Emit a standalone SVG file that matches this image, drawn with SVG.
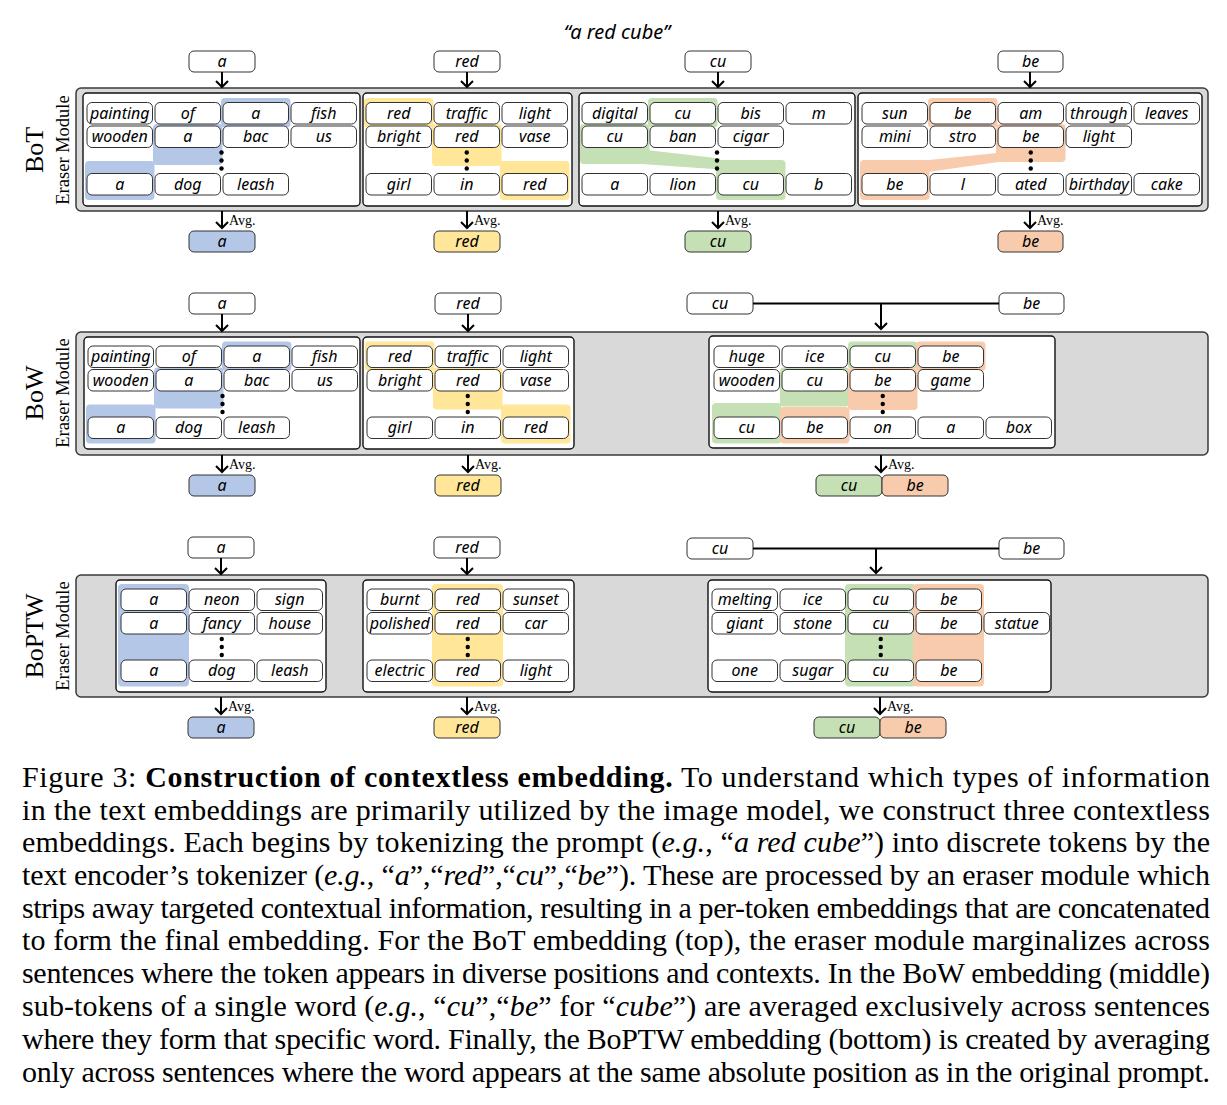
<svg xmlns="http://www.w3.org/2000/svg" width="1227" height="1105" viewBox="0 0 1227 1105">
<style>
.frame{fill:#d9d9d9;stroke:#3a3a3a;stroke-width:1.5}
.panel{fill:#fff;stroke:#111;stroke-width:1.4}
.cell{fill:#fff;stroke:#333;stroke-width:1}
.tok{font-family:"Noto Sans",sans-serif;font-style:italic;font-size:16px;text-anchor:middle;fill:#000}
.arr{fill:none;stroke:#000;stroke-width:2}
.avg{font-family:"Liberation Serif",serif;font-size:14px;fill:#000}
.lbl{font-family:"Liberation Serif",serif;text-anchor:middle;fill:#000}
.cap{font-family:"Liberation Serif",serif;font-size:30px;fill:#000}
.b{fill:#b4c7e7}.y{fill:#ffe699}.g{fill:#c5e0b4}.o{fill:#f8cbad}
.dot{fill:#000}
</style>

<text class="tok" x="617" y="39" style="font-size:20px">“a red cube”</text>

<!-- side labels -->
<text class="lbl" font-size="26" transform="translate(43,150) rotate(-90)">BoT</text>
<text class="lbl" font-size="18.5" transform="translate(69,150) rotate(-90)">Eraser Module</text>
<text class="lbl" font-size="26" transform="translate(43,393) rotate(-90)">BoW</text>
<text class="lbl" font-size="18.5" transform="translate(69,393) rotate(-90)">Eraser Module</text>
<text class="lbl" font-size="26" transform="translate(43,636) rotate(-90)">BoPTW</text>
<text class="lbl" font-size="18.5" transform="translate(69,636) rotate(-90)">Eraser Module</text>

<!-- frames -->
<rect class="frame" x="76" y="88" width="1132" height="123" rx="5"/>
<rect class="frame" x="76" y="332" width="1132" height="123" rx="5"/>
<rect class="frame" x="76" y="575" width="1132" height="122" rx="5"/>

<!-- ===== BoT ===== -->
<g id="bot-p1" transform="translate(87,102.5)">
<rect class="panel" x="-4" y="-9.5" width="277" height="113" rx="4"/>
<rect class="b" x="134" y="-4.5" width="69.5" height="29.5" rx="4"/>
<rect class="b" x="66" y="21.5" width="69.5" height="41" rx="4"/>
<rect class="b" x="-2" y="58.5" width="69.5" height="39" rx="4"/>
<rect class="cell" x="0" y="0" width="65.5" height="21.5" rx="5"/><text class="tok" x="32.75" y="16">painting</text>
<rect class="cell" x="68" y="0" width="65.5" height="21.5" rx="5"/><text class="tok" x="100.75" y="16">of</text>
<rect class="cell" x="136" y="0" width="65.5" height="21.5" rx="5"/><text class="tok" x="168.75" y="16">a</text>
<rect class="cell" x="204" y="0" width="65.5" height="21.5" rx="5"/><text class="tok" x="236.75" y="16">fish</text>
<rect class="cell" x="0" y="23.5" width="65.5" height="21.5" rx="5"/><text class="tok" x="32.75" y="39.5">wooden</text>
<rect class="cell" x="68" y="23.5" width="65.5" height="21.5" rx="5"/><text class="tok" x="100.75" y="39.5">a</text>
<rect class="cell" x="136" y="23.5" width="65.5" height="21.5" rx="5"/><text class="tok" x="168.75" y="39.5">bac</text>
<rect class="cell" x="204" y="23.5" width="65.5" height="21.5" rx="5"/><text class="tok" x="236.75" y="39.5">us</text>
<rect class="cell" x="0" y="71" width="65.5" height="21.5" rx="5"/><text class="tok" x="32.75" y="87">a</text>
<rect class="cell" x="68" y="71" width="65.5" height="21.5" rx="5"/><text class="tok" x="100.75" y="87">dog</text>
<rect class="cell" x="136" y="71" width="65.5" height="21.5" rx="5"/><text class="tok" x="168.75" y="87">leash</text>
<circle class="dot" cx="134.5" cy="50" r="2.2"/><circle class="dot" cx="134.5" cy="58" r="2.2"/><circle class="dot" cx="134.5" cy="66" r="2.2"/>
</g>

<g id="bot-p2" transform="translate(366,102.5)">
<rect class="panel" x="-3" y="-9.5" width="209" height="113" rx="4"/>
<rect class="y" x="-2" y="-4.5" width="69.5" height="29.5" rx="4"/>
<rect class="y" x="66" y="21.5" width="69.5" height="42" rx="4"/>
<rect class="y" x="134" y="58.5" width="69.5" height="39" rx="4"/>
<rect class="cell" x="0" y="0" width="65.5" height="21.5" rx="5"/><text class="tok" x="32.75" y="16">red</text>
<rect class="cell" x="68" y="0" width="65.5" height="21.5" rx="5"/><text class="tok" x="100.75" y="16">traffic</text>
<rect class="cell" x="136" y="0" width="65.5" height="21.5" rx="5"/><text class="tok" x="168.75" y="16">light</text>
<rect class="cell" x="0" y="23.5" width="65.5" height="21.5" rx="5"/><text class="tok" x="32.75" y="39.5">bright</text>
<rect class="cell" x="68" y="23.5" width="65.5" height="21.5" rx="5"/><text class="tok" x="100.75" y="39.5">red</text>
<rect class="cell" x="136" y="23.5" width="65.5" height="21.5" rx="5"/><text class="tok" x="168.75" y="39.5">vase</text>
<rect class="cell" x="0" y="71" width="65.5" height="21.5" rx="5"/><text class="tok" x="32.75" y="87">girl</text>
<rect class="cell" x="68" y="71" width="65.5" height="21.5" rx="5"/><text class="tok" x="100.75" y="87">in</text>
<rect class="cell" x="136" y="71" width="65.5" height="21.5" rx="5"/><text class="tok" x="168.75" y="87">red</text>
<circle class="dot" cx="100.75" cy="50" r="2.2"/><circle class="dot" cx="100.75" cy="58" r="2.2"/><circle class="dot" cx="100.75" cy="66" r="2.2"/>
</g>

<g id="bot-p3" transform="translate(582,102.5)">
<rect class="panel" x="-3" y="-9.5" width="276" height="113" rx="4"/>
<rect class="g" x="66" y="-4.5" width="69.5" height="29.5" rx="4"/>
<rect class="g" x="-2" y="21.5" width="69.5" height="40" rx="4"/>
<polygon class="g" points="60,47 138,56 138,67 60,61.5"/>
<rect class="g" x="134" y="57.5" width="69.5" height="40" rx="4"/>
<rect class="cell" x="0" y="0" width="65.5" height="21.5" rx="5"/><text class="tok" x="32.75" y="16">digital</text>
<rect class="cell" x="68" y="0" width="65.5" height="21.5" rx="5"/><text class="tok" x="100.75" y="16">cu</text>
<rect class="cell" x="136" y="0" width="65.5" height="21.5" rx="5"/><text class="tok" x="168.75" y="16">bis</text>
<rect class="cell" x="204" y="0" width="65.5" height="21.5" rx="5"/><text class="tok" x="236.75" y="16">m</text>
<rect class="cell" x="0" y="23.5" width="65.5" height="21.5" rx="5"/><text class="tok" x="32.75" y="39.5">cu</text>
<rect class="cell" x="68" y="23.5" width="65.5" height="21.5" rx="5"/><text class="tok" x="100.75" y="39.5">ban</text>
<rect class="cell" x="136" y="23.5" width="65.5" height="21.5" rx="5"/><text class="tok" x="168.75" y="39.5">cigar</text>
<rect class="cell" x="0" y="71" width="65.5" height="21.5" rx="5"/><text class="tok" x="32.75" y="87">a</text>
<rect class="cell" x="68" y="71" width="65.5" height="21.5" rx="5"/><text class="tok" x="100.75" y="87">lion</text>
<rect class="cell" x="136" y="71" width="65.5" height="21.5" rx="5"/><text class="tok" x="168.75" y="87">cu</text>
<rect class="cell" x="204" y="71" width="65.5" height="21.5" rx="5"/><text class="tok" x="236.75" y="87">b</text>
<circle class="dot" cx="135" cy="50" r="2.2"/><circle class="dot" cx="135" cy="58" r="2.2"/><circle class="dot" cx="135" cy="66" r="2.2"/>
</g>

<g id="bot-p4" transform="translate(862,102.5)">
<rect class="panel" x="-4" y="-9.5" width="344" height="113" rx="4"/>
<rect class="o" x="66" y="-4.5" width="69.5" height="29.5" rx="4"/>
<rect class="o" x="134" y="21.5" width="69.5" height="38" rx="4"/>
<polygon class="o" points="140,50 62,58 62,70 140,59"/>
<rect class="o" x="-2" y="57.5" width="69.5" height="40" rx="4"/>
<rect class="cell" x="0" y="0" width="65.5" height="21.5" rx="5"/><text class="tok" x="32.75" y="16">sun</text>
<rect class="cell" x="68" y="0" width="65.5" height="21.5" rx="5"/><text class="tok" x="100.75" y="16">be</text>
<rect class="cell" x="136" y="0" width="65.5" height="21.5" rx="5"/><text class="tok" x="168.75" y="16">am</text>
<rect class="cell" x="204" y="0" width="65.5" height="21.5" rx="5"/><text class="tok" x="236.75" y="16">through</text>
<rect class="cell" x="272" y="0" width="65.5" height="21.5" rx="5"/><text class="tok" x="304.75" y="16">leaves</text>
<rect class="cell" x="0" y="23.5" width="65.5" height="21.5" rx="5"/><text class="tok" x="32.75" y="39.5">mini</text>
<rect class="cell" x="68" y="23.5" width="65.5" height="21.5" rx="5"/><text class="tok" x="100.75" y="39.5">stro</text>
<rect class="cell" x="136" y="23.5" width="65.5" height="21.5" rx="5"/><text class="tok" x="168.75" y="39.5">be</text>
<rect class="cell" x="204" y="23.5" width="65.5" height="21.5" rx="5"/><text class="tok" x="236.75" y="39.5">light</text>
<rect class="cell" x="0" y="71" width="65.5" height="21.5" rx="5"/><text class="tok" x="32.75" y="87">be</text>
<rect class="cell" x="68" y="71" width="65.5" height="21.5" rx="5"/><text class="tok" x="100.75" y="87">l</text>
<rect class="cell" x="136" y="71" width="65.5" height="21.5" rx="5"/><text class="tok" x="168.75" y="87">ated</text>
<rect class="cell" x="204" y="71" width="65.5" height="21.5" rx="5"/><text class="tok" x="236.75" y="87">birthday</text>
<rect class="cell" x="272" y="71" width="65.5" height="21.5" rx="5"/><text class="tok" x="304.75" y="87">cake</text>
<circle class="dot" cx="168.75" cy="50" r="2.2"/><circle class="dot" cx="168.75" cy="58" r="2.2"/><circle class="dot" cx="168.75" cy="66" r="2.2"/>
</g>

<!-- ===== BoW ===== -->
<g id="bow-p1" transform="translate(88,346)">
<rect class="panel" x="-4" y="-9" width="276" height="112" rx="4"/>
<rect class="b" x="134" y="-4.5" width="69.5" height="29.5" rx="4"/>
<rect class="b" x="66" y="21.5" width="69.5" height="41" rx="4"/>
<rect class="b" x="-2" y="58.5" width="69.5" height="39" rx="4"/>
<rect class="cell" x="0" y="0" width="65.5" height="21.5" rx="5"/><text class="tok" x="32.75" y="16">painting</text>
<rect class="cell" x="68" y="0" width="65.5" height="21.5" rx="5"/><text class="tok" x="100.75" y="16">of</text>
<rect class="cell" x="136" y="0" width="65.5" height="21.5" rx="5"/><text class="tok" x="168.75" y="16">a</text>
<rect class="cell" x="204" y="0" width="65.5" height="21.5" rx="5"/><text class="tok" x="236.75" y="16">fish</text>
<rect class="cell" x="0" y="23.5" width="65.5" height="21.5" rx="5"/><text class="tok" x="32.75" y="39.5">wooden</text>
<rect class="cell" x="68" y="23.5" width="65.5" height="21.5" rx="5"/><text class="tok" x="100.75" y="39.5">a</text>
<rect class="cell" x="136" y="23.5" width="65.5" height="21.5" rx="5"/><text class="tok" x="168.75" y="39.5">bac</text>
<rect class="cell" x="204" y="23.5" width="65.5" height="21.5" rx="5"/><text class="tok" x="236.75" y="39.5">us</text>
<rect class="cell" x="0" y="71" width="65.5" height="21.5" rx="5"/><text class="tok" x="32.75" y="87">a</text>
<rect class="cell" x="68" y="71" width="65.5" height="21.5" rx="5"/><text class="tok" x="100.75" y="87">dog</text>
<rect class="cell" x="136" y="71" width="65.5" height="21.5" rx="5"/><text class="tok" x="168.75" y="87">leash</text>
<circle class="dot" cx="134.5" cy="50" r="2.2"/><circle class="dot" cx="134.5" cy="58" r="2.2"/><circle class="dot" cx="134.5" cy="66" r="2.2"/>
</g>

<g id="bow-p2" transform="translate(367,346)">
<rect class="panel" x="-4" y="-9" width="211" height="112" rx="4"/>
<rect class="y" x="-2" y="-4.5" width="69.5" height="29.5" rx="4"/>
<rect class="y" x="66" y="21.5" width="69.5" height="42" rx="4"/>
<rect class="y" x="134" y="58.5" width="69.5" height="39" rx="4"/>
<rect class="cell" x="0" y="0" width="65.5" height="21.5" rx="5"/><text class="tok" x="32.75" y="16">red</text>
<rect class="cell" x="68" y="0" width="65.5" height="21.5" rx="5"/><text class="tok" x="100.75" y="16">traffic</text>
<rect class="cell" x="136" y="0" width="65.5" height="21.5" rx="5"/><text class="tok" x="168.75" y="16">light</text>
<rect class="cell" x="0" y="23.5" width="65.5" height="21.5" rx="5"/><text class="tok" x="32.75" y="39.5">bright</text>
<rect class="cell" x="68" y="23.5" width="65.5" height="21.5" rx="5"/><text class="tok" x="100.75" y="39.5">red</text>
<rect class="cell" x="136" y="23.5" width="65.5" height="21.5" rx="5"/><text class="tok" x="168.75" y="39.5">vase</text>
<rect class="cell" x="0" y="71" width="65.5" height="21.5" rx="5"/><text class="tok" x="32.75" y="87">girl</text>
<rect class="cell" x="68" y="71" width="65.5" height="21.5" rx="5"/><text class="tok" x="100.75" y="87">in</text>
<rect class="cell" x="136" y="71" width="65.5" height="21.5" rx="5"/><text class="tok" x="168.75" y="87">red</text>
<circle class="dot" cx="100.75" cy="50" r="2.2"/><circle class="dot" cx="100.75" cy="58" r="2.2"/><circle class="dot" cx="100.75" cy="66" r="2.2"/>
</g>

<g id="bow-p3" transform="translate(714,346)">
<rect class="panel" x="-5" y="-10" width="346" height="112" rx="4"/>
<rect class="g" x="134" y="-4.5" width="69.5" height="27.5" rx="4"/>
<rect class="g" x="66" y="21.5" width="69.5" height="39" rx="4"/>
<rect class="g" x="-2" y="57" width="69.5" height="40.5" rx="4"/>
<rect class="o" x="202" y="-4.5" width="69.5" height="29.5" rx="4"/>
<rect class="o" x="134" y="22" width="69.5" height="42" rx="4"/>
<rect class="o" x="66" y="61" width="69.5" height="36.5" rx="4"/>
<rect class="cell" x="0" y="0" width="65.5" height="21.5" rx="5"/><text class="tok" x="32.75" y="16">huge</text>
<rect class="cell" x="68" y="0" width="65.5" height="21.5" rx="5"/><text class="tok" x="100.75" y="16">ice</text>
<rect class="cell" x="136" y="0" width="65.5" height="21.5" rx="5"/><text class="tok" x="168.75" y="16">cu</text>
<rect class="cell" x="204" y="0" width="65.5" height="21.5" rx="5"/><text class="tok" x="236.75" y="16">be</text>
<rect class="cell" x="0" y="23.5" width="65.5" height="21.5" rx="5"/><text class="tok" x="32.75" y="39.5">wooden</text>
<rect class="cell" x="68" y="23.5" width="65.5" height="21.5" rx="5"/><text class="tok" x="100.75" y="39.5">cu</text>
<rect class="cell" x="136" y="23.5" width="65.5" height="21.5" rx="5"/><text class="tok" x="168.75" y="39.5">be</text>
<rect class="cell" x="204" y="23.5" width="65.5" height="21.5" rx="5"/><text class="tok" x="236.75" y="39.5">game</text>
<rect class="cell" x="0" y="71" width="65.5" height="21.5" rx="5"/><text class="tok" x="32.75" y="87">cu</text>
<rect class="cell" x="68" y="71" width="65.5" height="21.5" rx="5"/><text class="tok" x="100.75" y="87">be</text>
<rect class="cell" x="136" y="71" width="65.5" height="21.5" rx="5"/><text class="tok" x="168.75" y="87">on</text>
<rect class="cell" x="204" y="71" width="65.5" height="21.5" rx="5"/><text class="tok" x="236.75" y="87">a</text>
<rect class="cell" x="272" y="71" width="65.5" height="21.5" rx="5"/><text class="tok" x="304.75" y="87">box</text>
<circle class="dot" cx="168.75" cy="50" r="2.2"/><circle class="dot" cx="168.75" cy="58" r="2.2"/><circle class="dot" cx="168.75" cy="66" r="2.2"/>
</g>

<!-- ===== BoPTW ===== -->
<g id="boptw-p1" transform="translate(121,589)">
<rect class="panel" x="-5" y="-9" width="210" height="112" rx="4"/>
<rect class="b" x="-3" y="-5" width="71" height="102.5" rx="4"/>
<rect class="cell" x="0" y="0" width="65.5" height="21.5" rx="5"/><text class="tok" x="32.75" y="16">a</text>
<rect class="cell" x="68" y="0" width="65.5" height="21.5" rx="5"/><text class="tok" x="100.75" y="16">neon</text>
<rect class="cell" x="136" y="0" width="65.5" height="21.5" rx="5"/><text class="tok" x="168.75" y="16">sign</text>
<rect class="cell" x="0" y="23.5" width="65.5" height="21.5" rx="5"/><text class="tok" x="32.75" y="39.5">a</text>
<rect class="cell" x="68" y="23.5" width="65.5" height="21.5" rx="5"/><text class="tok" x="100.75" y="39.5">fancy</text>
<rect class="cell" x="136" y="23.5" width="65.5" height="21.5" rx="5"/><text class="tok" x="168.75" y="39.5">house</text>
<rect class="cell" x="0" y="71" width="65.5" height="21.5" rx="5"/><text class="tok" x="32.75" y="87">a</text>
<rect class="cell" x="68" y="71" width="65.5" height="21.5" rx="5"/><text class="tok" x="100.75" y="87">dog</text>
<rect class="cell" x="136" y="71" width="65.5" height="21.5" rx="5"/><text class="tok" x="168.75" y="87">leash</text>
<circle class="dot" cx="100.75" cy="50" r="2.2"/><circle class="dot" cx="100.75" cy="58" r="2.2"/><circle class="dot" cx="100.75" cy="66" r="2.2"/>
</g>

<g id="boptw-p2" transform="translate(367,589)">
<rect class="panel" x="-4" y="-9" width="211" height="112" rx="4"/>
<rect class="y" x="65" y="-5" width="71" height="102.5" rx="4"/>
<rect class="cell" x="0" y="0" width="65.5" height="21.5" rx="5"/><text class="tok" x="32.75" y="16">burnt</text>
<rect class="cell" x="68" y="0" width="65.5" height="21.5" rx="5"/><text class="tok" x="100.75" y="16">red</text>
<rect class="cell" x="136" y="0" width="65.5" height="21.5" rx="5"/><text class="tok" x="168.75" y="16">sunset</text>
<rect class="cell" x="0" y="23.5" width="65.5" height="21.5" rx="5"/><text class="tok" x="32.75" y="39.5">polished</text>
<rect class="cell" x="68" y="23.5" width="65.5" height="21.5" rx="5"/><text class="tok" x="100.75" y="39.5">red</text>
<rect class="cell" x="136" y="23.5" width="65.5" height="21.5" rx="5"/><text class="tok" x="168.75" y="39.5">car</text>
<rect class="cell" x="0" y="71" width="65.5" height="21.5" rx="5"/><text class="tok" x="32.75" y="87">electric</text>
<rect class="cell" x="68" y="71" width="65.5" height="21.5" rx="5"/><text class="tok" x="100.75" y="87">red</text>
<rect class="cell" x="136" y="71" width="65.5" height="21.5" rx="5"/><text class="tok" x="168.75" y="87">light</text>
<circle class="dot" cx="100.75" cy="50" r="2.2"/><circle class="dot" cx="100.75" cy="58" r="2.2"/><circle class="dot" cx="100.75" cy="66" r="2.2"/>
</g>

<g id="boptw-p3" transform="translate(712,589)">
<rect class="panel" x="-4" y="-9" width="343" height="112" rx="4"/>
<rect class="g" x="133" y="-5" width="71" height="102.5" rx="4"/>
<rect class="o" x="201" y="-5" width="71" height="102.5" rx="4"/>
<rect class="cell" x="0" y="0" width="65.5" height="21.5" rx="5"/><text class="tok" x="32.75" y="16">melting</text>
<rect class="cell" x="68" y="0" width="65.5" height="21.5" rx="5"/><text class="tok" x="100.75" y="16">ice</text>
<rect class="cell" x="136" y="0" width="65.5" height="21.5" rx="5"/><text class="tok" x="168.75" y="16">cu</text>
<rect class="cell" x="204" y="0" width="65.5" height="21.5" rx="5"/><text class="tok" x="236.75" y="16">be</text>
<rect class="cell" x="0" y="23.5" width="65.5" height="21.5" rx="5"/><text class="tok" x="32.75" y="39.5">giant</text>
<rect class="cell" x="68" y="23.5" width="65.5" height="21.5" rx="5"/><text class="tok" x="100.75" y="39.5">stone</text>
<rect class="cell" x="136" y="23.5" width="65.5" height="21.5" rx="5"/><text class="tok" x="168.75" y="39.5">cu</text>
<rect class="cell" x="204" y="23.5" width="65.5" height="21.5" rx="5"/><text class="tok" x="236.75" y="39.5">be</text>
<rect class="cell" x="272" y="23.5" width="65.5" height="21.5" rx="5"/><text class="tok" x="304.75" y="39.5">statue</text>
<rect class="cell" x="0" y="71" width="65.5" height="21.5" rx="5"/><text class="tok" x="32.75" y="87">one</text>
<rect class="cell" x="68" y="71" width="65.5" height="21.5" rx="5"/><text class="tok" x="100.75" y="87">sugar</text>
<rect class="cell" x="136" y="71" width="65.5" height="21.5" rx="5"/><text class="tok" x="168.75" y="87">cu</text>
<rect class="cell" x="204" y="71" width="65.5" height="21.5" rx="5"/><text class="tok" x="236.75" y="87">be</text>
<circle class="dot" cx="168.75" cy="50" r="2.2"/><circle class="dot" cx="168.75" cy="58" r="2.2"/><circle class="dot" cx="168.75" cy="66" r="2.2"/>
</g>

<!-- input / output token boxes -->
<g id="bot-in">
<rect class="cell" x="189" y="51" width="66" height="21" rx="5"/><text class="tok" x="222" y="66.5">a</text>
<rect class="cell" x="434" y="51" width="66" height="21" rx="5"/><text class="tok" x="467" y="66.5">red</text>
<rect class="cell" x="685" y="51" width="66" height="21" rx="5"/><text class="tok" x="718" y="66.5">cu</text>
<rect class="cell" x="998" y="51" width="65" height="21" rx="5"/><text class="tok" x="1030.5" y="66.5">be</text>
</g>
<g id="bot-out">
<rect class="cell" x="189" y="231" width="66" height="21" rx="5" style="fill:#b4c7e7"/><text class="tok" x="222" y="246.5">a</text>
<rect class="cell" x="434" y="231" width="66" height="21" rx="5" style="fill:#ffe699"/><text class="tok" x="467" y="246.5">red</text>
<rect class="cell" x="685" y="231" width="66" height="21" rx="5" style="fill:#c5e0b4"/><text class="tok" x="718" y="246.5">cu</text>
<rect class="cell" x="998" y="231" width="65" height="21" rx="5" style="fill:#f8cbad"/><text class="tok" x="1030.5" y="246.5">be</text>
</g>
<g id="bow-in">
<rect class="cell" x="189" y="293" width="66" height="21" rx="5"/><text class="tok" x="222" y="308.5">a</text>
<rect class="cell" x="435" y="293" width="66" height="21" rx="5"/><text class="tok" x="468" y="308.5">red</text>
<rect class="cell" x="687" y="293" width="66" height="21" rx="5"/><text class="tok" x="720" y="308.5">cu</text>
<rect class="cell" x="999" y="293" width="65" height="21" rx="5"/><text class="tok" x="1031.5" y="308.5">be</text>
</g>
<g id="bow-out">
<rect class="cell" x="189" y="475" width="66" height="21" rx="5" style="fill:#b4c7e7"/><text class="tok" x="222" y="490.5">a</text>
<rect class="cell" x="435" y="475" width="66" height="21" rx="5" style="fill:#ffe699"/><text class="tok" x="468" y="490.5">red</text>
<rect class="cell" x="816" y="475" width="66" height="21" rx="5" style="fill:#c5e0b4"/><text class="tok" x="849" y="490.5">cu</text>
<rect class="cell" x="882" y="475" width="66" height="21" rx="5" style="fill:#f8cbad"/><text class="tok" x="915" y="490.5">be</text>
</g>
<g id="boptw-in">
<rect class="cell" x="188" y="537" width="66" height="21" rx="5"/><text class="tok" x="221" y="552.5">a</text>
<rect class="cell" x="434" y="537" width="66" height="21" rx="5"/><text class="tok" x="467" y="552.5">red</text>
<rect class="cell" x="687" y="538" width="66" height="21" rx="5"/><text class="tok" x="720" y="553.5">cu</text>
<rect class="cell" x="999" y="538" width="65" height="21" rx="5"/><text class="tok" x="1031.5" y="553.5">be</text>
</g>
<g id="boptw-out">
<rect class="cell" x="188" y="717" width="66" height="21" rx="5" style="fill:#b4c7e7"/><text class="tok" x="221" y="732.5">a</text>
<rect class="cell" x="434" y="717" width="66" height="21" rx="5" style="fill:#ffe699"/><text class="tok" x="467" y="732.5">red</text>
<rect class="cell" x="814" y="717" width="66" height="21" rx="5" style="fill:#c5e0b4"/><text class="tok" x="847" y="732.5">cu</text>
<rect class="cell" x="880" y="717" width="66" height="21" rx="5" style="fill:#f8cbad"/><text class="tok" x="913" y="732.5">be</text>
</g>

<!-- connectors -->
<g id="connectors" class="arr">
<path d="M222,72V87M216,81L222,87L228,81"/>
<path d="M467,72V87M461,81L467,87L473,81"/>
<path d="M718,72V87M712,81L718,87L724,81"/>
<path d="M1030,72V87M1024,81L1030,87L1036,81"/>
<path d="M222,211V228M216,222L222,228L228,222"/>
<path d="M467,211V228M461,222L467,228L473,222"/>
<path d="M718,211V228M712,222L718,228L724,222"/>
<path d="M1030,211V228M1024,222L1030,228L1036,222"/>

<path d="M222,314V331M216,325L222,331L228,325"/>
<path d="M468,314V331M462,325L468,331L474,325"/>
<path d="M753,303.5H999M881,303.5V329M875,323L881,329L887,323"/>
<path d="M222,455V472M216,466L222,472L228,466"/>
<path d="M468,455V472M462,466L468,472L474,466"/>
<path d="M881,455V472M875,466L881,472L887,466"/>

<path d="M221,558V574M215,568L221,574L227,568"/>
<path d="M467,558V574M461,568L467,574L473,568"/>
<path d="M753,548.5H999M876,548.5V573M870,567L876,573L882,567"/>
<path d="M221,697V714M215,708L221,714L227,708"/>
<path d="M467,697V714M461,708L467,714L473,708"/>
<path d="M880,697V714M874,708L880,714L886,708"/>
</g>
<g id="avg-labels">
<text class="avg" x="229" y="225">Avg.</text>
<text class="avg" x="474" y="225">Avg.</text>
<text class="avg" x="725" y="225">Avg.</text>
<text class="avg" x="1037" y="225">Avg.</text>
<text class="avg" x="229" y="469">Avg.</text>
<text class="avg" x="475" y="469">Avg.</text>
<text class="avg" x="888" y="469">Avg.</text>
<text class="avg" x="228" y="711">Avg.</text>
<text class="avg" x="474" y="711">Avg.</text>
<text class="avg" x="887" y="711">Avg.</text>
</g>

<!-- caption -->
<g id="caption" class="cap">
<text x="22" y="787" textLength="1188" lengthAdjust="spacing">Figure 3:  <tspan font-weight="bold">Construction of contextless embedding.</tspan>  To understand which types of information</text>
<text x="22" y="820" textLength="1188" lengthAdjust="spacing">in the text embeddings are primarily utilized by the image model, we construct three contextless</text>
<text x="22" y="852" textLength="1188" lengthAdjust="spacing">embeddings. Each begins by tokenizing the prompt (<tspan font-style="italic">e.g.</tspan>, “<tspan font-style="italic">a red cube</tspan>”) into discrete tokens by the</text>
<text x="22" y="885" textLength="1188" lengthAdjust="spacing">text encoder’s tokenizer (<tspan font-style="italic">e.g.</tspan>, “<tspan font-style="italic">a</tspan>”,“<tspan font-style="italic">red</tspan>”,“<tspan font-style="italic">cu</tspan>”,“<tspan font-style="italic">be</tspan>”). These are processed by an eraser module which</text>
<text x="22" y="918" textLength="1188" lengthAdjust="spacing">strips away targeted contextual information, resulting in a per-token embeddings that are concatenated</text>
<text x="22" y="950" textLength="1188" lengthAdjust="spacing">to form the final embedding. For the BoT embedding (top), the eraser module marginalizes across</text>
<text x="22" y="983" textLength="1188" lengthAdjust="spacing">sentences where the token appears in diverse positions and contexts. In the BoW embedding (middle)</text>
<text x="22" y="1016" textLength="1188" lengthAdjust="spacing">sub-tokens of a single word (<tspan font-style="italic">e.g.</tspan>, “<tspan font-style="italic">cu</tspan>”,“<tspan font-style="italic">be</tspan>” for “<tspan font-style="italic">cube</tspan>”) are averaged exclusively across sentences</text>
<text x="22" y="1049" textLength="1188" lengthAdjust="spacing">where they form that specific word. Finally, the BoPTW embedding (bottom) is created by averaging</text>
<text x="22" y="1082" textLength="1188" lengthAdjust="spacing">only across sentences where the word appears at the same absolute position as in the original prompt.</text>
</g>
</svg>
